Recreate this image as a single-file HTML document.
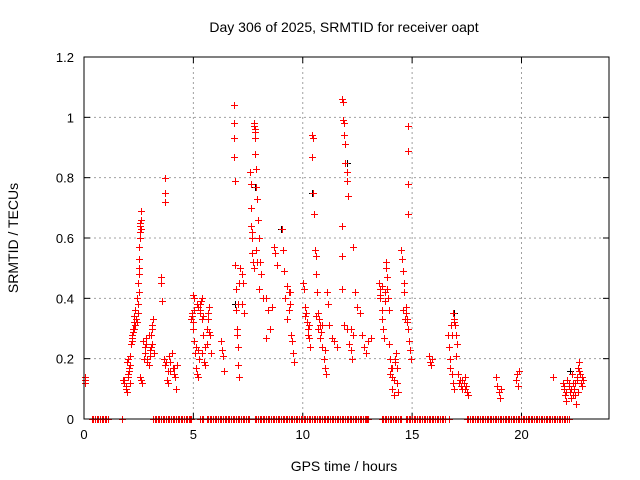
<!DOCTYPE html>
<html><head><meta charset="utf-8"><style>
body{margin:0;background:#fff;}
svg{display:block;font-family:"Liberation Sans",sans-serif;}
</style></head><body>
<svg id="chart" width="640" height="480" viewBox="0 0 640 480" xmlns="http://www.w3.org/2000/svg">
<rect x="0" y="0" width="640" height="480" fill="#fff"/>
<text x="344" y="32" font-size="14" text-anchor="middle" fill="#000">Day 306 of 2025, SRMTID for receiver oapt</text>
<text x="344" y="471" font-size="14" text-anchor="middle" fill="#000">GPS time / hours</text>
<text x="18" y="238" font-size="14" text-anchor="middle" fill="#000" transform="rotate(-90 18 238)">SRMTID / TECUs</text>
<g id="grid"></g>
<g id="axes"></g>
<g id="marks"></g>
<rect x="84" y="57" width="525" height="362" fill="none" stroke="#000" stroke-width="1"/>
</svg>
<script>
const xTicks=[0,5,10,15,20];
const yTicks=[0,0.2,0.4,0.6,0.8,1,1.2];
const yTickLabels=["0","0.2","0.4","0.6","0.8","1","1.2"];
const redTimes=[0.05,0.05,0.05,
1.8,1.85,1.9,1.95,1.9,2.0,2.05,2.1,2.0,2.1,2.05,1.85,
2.15,2.2,2.25,2.3,2.2,2.35,2.3,2.25,2.18,2.38,
2.45,2.47,2.5,2.5,2.52,2.52,2.55,2.55,2.57,2.6,2.6,2.58,2.5,2.48,
2.55,2.6,2.65,
2.75,2.8,2.85,2.9,2.95,2.8,2.85,3.0,
3.05,3.1,3.15,3.1,3.0,3.2,
3.5,3.5,3.55,3.7,3.7,3.7,
3.65,3.7,3.8,3.85,3.9,4.0,4.05,4.1,4.15,4.2,4.25,3.95,
4.9,4.95,5.0,5.0,5.05,5.1,5.1,5.15,5.2,5.25,5.2,5.15,5.05,5.0,
5.3,5.35,5.4,5.45,5.4,5.5,5.55,5.6,5.6,5.65,5.7,5.75,5.8,
6.25,6.3,6.35,6.4,
6.85,6.85,6.85,6.85,6.9,6.9,6.95,6.95,7.0,7.0,7.05,7.05,7.1,
7.15,7.2,7.25,7.2,7.3,
7.6,7.62,7.65,7.65,7.7,7.7,7.72,7.75,7.78,7.8,7.8,7.82,7.82,7.85,7.85,
7.9,7.95,8.0,8.05,8.1,8.0,8.2,
8.3,8.4,8.5,8.3,8.6,8.7,8.75,8.8,
9.05,9.1,9.15,9.2,9.3,9.35,9.4,9.3,9.45,9.5,9.55,9.6,
10.0,10.05,10.1,10.15,10.2,10.25,10.3,10.35,10.4,10.45,10.4,10.45,10.5,
10.55,10.6,10.6,10.65,10.7,10.75,10.8,10.85,10.9,10.95,11.0,11.05,11.1,11.15,11.2,
11.35,11.45,11.55,
11.8,11.85,11.85,11.9,11.9,11.95,11.95,12.0,12.0,12.05,11.8,11.8,11.8,11.9,12.0,12.1,12.2,12.25,12.3,
12.4,12.5,12.6,12.7,12.8,12.9,13.0,
13.1,
13.5,13.52,13.55,13.6,13.62,13.65,13.7,13.8,13.82,13.85,13.85,13.9,13.92,
13.95,14.0,14.05,14.1,14.1,14.15,14.2,14.25,14.3,14.3,14.35,
14.5,14.55,14.6,14.62,14.65,14.7,14.72,14.75,14.8,14.85,14.9,14.95,14.82,14.82,14.82,14.82,
15.75,15.8,15.85,15.9,
16.65,16.7,16.72,16.75,16.8,16.85,16.9,16.85,16.9,16.95,17.0,17.05,17.0,
17.1,17.2,17.25,17.3,17.35,17.4,17.45,17.5,17.55,
18.85,18.9,18.95,19.0,19.05,
19.75,19.8,19.85,19.9,
21.45,
21.9,21.95,22.0,22.05,22.1,22.15,22.2,22.25,22.3,22.35,22.4,22.45,22.5,22.55,22.6,22.65,22.7,22.75,22.8,22.6];
const redValues=[0.12,0.13,0.14,
0.13,0.12,0.10,0.09,0.11,0.14,0.16,0.18,0.20,0.21,0.17,0.13,
0.25,0.28,0.30,0.32,0.27,0.31,0.34,0.29,0.26,0.33,
0.35,0.38,0.42,0.48,0.53,0.57,0.60,0.64,0.65,0.66,0.69,0.62,0.50,0.45,
0.14,0.13,0.12,
0.20,0.22,0.25,0.19,0.18,0.24,0.27,0.21,
0.28,0.30,0.33,0.25,0.23,0.22,
0.47,0.45,0.39,0.80,0.75,0.72,
0.20,0.18,0.13,0.12,0.21,0.22,0.17,0.15,0.14,0.10,0.18,0.16,
0.33,0.35,0.32,0.30,0.26,0.24,0.17,0.15,0.14,0.20,0.23,0.38,0.40,0.41,
0.36,0.39,0.33,0.28,0.22,0.19,0.18,0.25,0.30,0.35,0.37,0.28,0.22,
0.26,0.23,0.21,0.16,
1.04,0.98,0.93,0.87,0.79,0.51,0.43,0.36,0.30,0.28,0.24,0.18,0.14,
0.50,0.48,0.45,0.38,0.35,
0.82,0.78,0.70,0.64,0.60,0.55,0.52,0.50,0.98,0.96,0.95,0.93,0.88,0.83,0.77,
0.73,0.66,0.60,0.52,0.48,0.43,0.40,
0.40,0.36,0.30,0.27,0.37,0.57,0.55,0.51,
0.63,0.56,0.49,0.40,0.44,0.42,0.38,0.33,0.28,0.26,0.22,0.19,
0.45,0.43,0.37,0.35,0.32,0.30,0.27,0.24,0.94,0.93,0.87,0.75,0.68,
0.56,0.54,0.48,0.42,0.35,0.33,0.31,0.29,0.24,0.20,0.17,0.15,0.42,0.38,0.31,
0.27,0.26,0.24,
1.06,1.05,0.99,0.98,0.94,0.91,0.85,0.82,0.79,0.74,0.64,0.54,0.43,0.31,0.30,0.25,0.23,0.20,0.57,
0.42,0.37,0.35,0.28,0.24,0.22,0.26,
0.27,
0.45,0.43,0.40,0.36,0.33,0.30,0.27,0.52,0.50,0.47,0.43,0.40,0.36,
0.25,0.20,0.17,0.14,0.10,0.08,0.19,0.22,0.17,0.12,0.09,
0.56,0.53,0.49,0.45,0.42,0.37,0.35,0.33,0.30,0.26,0.23,0.20,0.97,0.89,0.78,0.68,
0.21,0.19,0.18,0.20,
0.28,0.24,0.20,0.17,0.15,0.12,0.10,0.35,0.33,0.31,0.28,0.25,0.21,
0.15,0.13,0.11,0.10,0.12,0.14,0.11,0.09,0.08,
0.14,0.11,0.09,0.07,0.10,
0.13,0.15,0.11,0.16,
0.14,
0.12,0.10,0.08,0.06,0.13,0.11,0.09,0.07,0.15,0.12,0.10,0.08,0.05,0.14,0.17,0.19,0.12,0.11,0.13,0.09];
const extraTimes=[1.95,2.0,2.08,2.12,2.28,2.32,2.4,2.42,2.62,2.7,2.9,2.95,3.05,3.12,3.75,3.82,3.92,4.1,4.95,5.02,5.08,5.22,5.28,5.32,5.38,5.45,5.52,5.68,5.72,
7.02,7.08,7.68,7.75,7.88,7.92,9.35,9.42,10.1,10.22,10.3,10.62,10.68,10.78,10.88,11.0,12.2,12.28,13.55,13.6,13.75,13.78,14.0,14.08,14.18,14.22,
14.6,14.68,14.75,16.78,16.82,16.92,17.15,17.3,17.42,21.95,22.05,22.15,22.25,22.35,22.45,22.55,22.62,22.68,22.72,22.78];
const extraValues=[0.19,0.15,0.12,0.21,0.30,0.36,0.32,0.40,0.63,0.26,0.20,0.28,0.24,0.31,0.19,0.16,0.19,0.17,0.34,0.36,0.22,0.37,0.35,0.38,0.40,0.34,0.24,0.33,0.29,
0.38,0.45,0.62,0.97,0.56,0.52,0.36,0.42,0.34,0.28,0.31,0.34,0.30,0.27,0.31,0.23,0.30,0.28,0.41,0.44,0.42,0.39,0.15,0.17,0.13,0.20,
0.36,0.33,0.32,0.31,0.28,0.32,0.12,0.13,0.10,0.11,0.09,0.12,0.10,0.08,0.12,0.13,0.16,0.15,0.12,0.14];
const zeroTimes=[0.35,0.5,0.65,0.8,0.95,1.1,1.75,
3.15,3.3,3.45,3.6,3.75,3.9,4.05,4.2,4.35,4.5,4.65,4.8,4.9,5.3,5.45,
5.6,5.75,5.9,6.05,6.2,6.35,6.5,6.65,6.8,6.95,7.1,7.25,7.4,7.55,
7.8,7.95,8.1,8.25,8.4,8.55,8.7,8.85,9.0,9.15,9.3,9.45,9.6,9.75,9.9,10.05,10.2,10.35,10.5,10.65,10.8,10.95,11.1,11.25,11.4,11.55,11.7,11.85,12.0,12.15,12.3,12.45,12.6,12.75,12.9,13.0,
13.6,13.75,13.9,14.05,14.2,14.35,14.5,
14.7,14.85,15.0,15.15,15.3,15.45,15.6,15.75,15.9,16.05,16.2,16.35,16.5,16.7,
17.5,17.65,17.8,17.95,18.1,18.25,18.4,18.55,18.7,18.85,19.0,19.15,19.3,19.45,19.6,19.75,19.9,20.05,20.2,20.35,20.5,20.65,20.8,20.95,21.1,21.25,21.4,21.55,21.7,21.85,22.0,22.15];
const zeroTimes2=[0.425,0.575,0.725,0.875,1.025,
3.225,3.375,3.525,3.675,3.825,3.975,4.125,4.275,4.425,4.575,4.725,4.85,5.375,
5.675,5.825,5.975,6.125,6.275,6.425,6.575,6.725,6.875,7.025,7.175,7.325,7.475,
7.875,8.025,8.175,8.325,8.475,8.625,8.775,8.925,9.075,9.225,9.375,9.525,9.675,9.825,9.975,10.125,10.275,10.425,10.575,10.725,10.875,11.025,11.175,11.325,11.475,11.625,11.775,11.925,12.075,12.225,12.375,12.525,12.675,12.825,12.95,
13.675,13.825,13.975,14.125,14.275,14.425,
14.775,14.925,15.075,15.225,15.375,15.525,15.675,15.825,15.975,16.125,16.275,16.425,
17.575,17.725,17.875,18.025,18.175,18.325,18.475,18.625,18.775,18.925,19.075,19.225,19.375,19.525,19.675,19.825,19.975,20.125,20.275,20.425,20.575,20.725,20.875,21.025,21.175,21.325,21.475,21.625,21.775,21.925,22.075];
const blackTimes=[0.05,2.5,3.55,6.9,7.8,9.0,10.4,12.0,14.8,16.9,22.2];
const blackValues=[0.12,0.42,0.39,0.38,0.77,0.63,0.75,0.85,0.68,0.35,0.16];

const X0=84,X1=609,Y0=419,Y1=57,XMAX=24,YMAX=1.2;
const xs=t=>X0+(X1-X0)*t/XMAX;
const ys=v=>Y0-(Y0-Y1)*v/YMAX;
const NS="http://www.w3.org/2000/svg";
const grid=document.getElementById('grid'),axes=document.getElementById('axes'),marks=document.getElementById('marks');
function mk(tag,attrs,parent){const e=document.createElementNS(NS,tag);for(const k in attrs)e.setAttribute(k,attrs[k]);parent.appendChild(e);return e;}
xTicks.forEach(t=>{
  const x=xs(t);
  if(t>0){const g=mk('line',{x1:x,x2:x,y1:Y1,y2:Y0,stroke:'#a0a0a0','stroke-dasharray':'2,3'},grid);
  
  }
  mk('line',{x1:x,x2:x,y1:Y0,y2:Y0-6,stroke:'#000'},axes);
  mk('line',{x1:x,x2:x,y1:Y1,y2:Y1+6,stroke:'#000'},axes);
  const l=mk('text',{x:x,y:Y0+20,'font-size':13,'text-anchor':'middle'},axes);
  l.textContent=String(t);
  
  
});
yTicks.forEach((v,i)=>{
  const y=ys(v);
  if(v>0&&v<YMAX){const g=mk('line',{x1:X0,x2:X1,y1:y,y2:y,stroke:'#a0a0a0','stroke-dasharray':'2,3'},grid);
  
  }
  mk('line',{x1:X0,x2:X0+6,y1:y,y2:y,stroke:'#000'},axes);
  mk('line',{x1:X1,x2:X1-6,y1:y,y2:y,stroke:'#000'},axes);
  const l=mk('text',{x:X0-10,y:y+5,'font-size':13,'text-anchor':'end'},axes);
  l.textContent=yTickLabels[i];
  
  
});
function cross(t,v,color,name){
  const x=Math.round(xs(t))+0.5,y=Math.round(ys(v))+0.5;
  const p=mk('path',{d:`M${x-3.5},${y}H${x+3.5}M${x},${y-3.5}V${y+3.5}`,stroke:color,'stroke-width':1,fill:'none'},marks);
  
  
}
blackTimes.forEach((t,i)=>cross(t,blackValues[i],'#000','black-point'));
zeroTimes.forEach(t=>cross(t,0,'#ff0000','zero-point'));
zeroTimes2.forEach(t=>cross(t,0,'#ff0000','zero-point'));
redTimes.forEach((t,i)=>cross(t,redValues[i],'#ff0000','red-point'));
extraTimes.forEach((t,i)=>cross(t,extraValues[i],'#ff0000','red-point'));
</script>
</body></html>
